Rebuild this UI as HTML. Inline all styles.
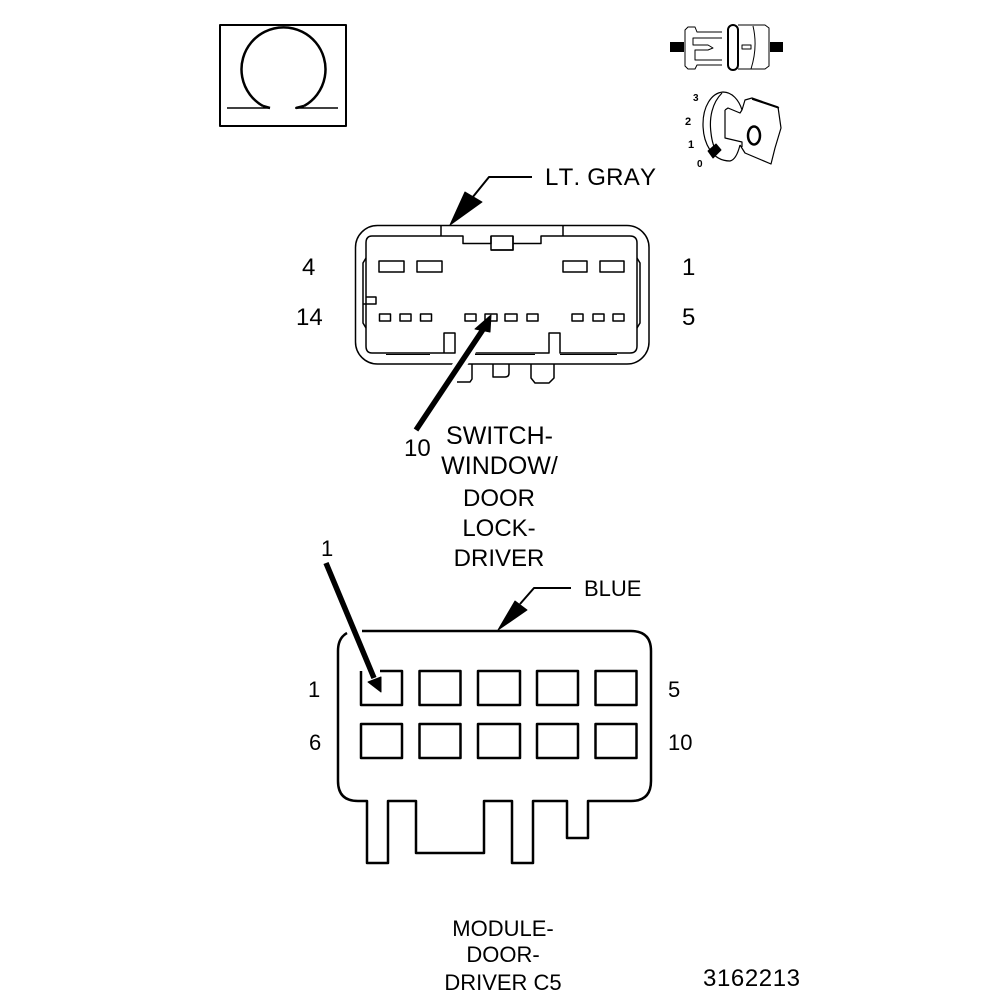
<!DOCTYPE html>
<html><head><meta charset="utf-8"><style>
html,body{margin:0;padding:0;background:#fff}
svg{display:block}
text{font-family:"Liberation Sans",sans-serif;fill:#000;font-kerning:none}
.a{font-size:24px}.b{font-size:22px}.c{font-size:25px}
</style></head><body>
<svg width="1008" height="1000" viewBox="0 0 1008 1000" xmlns="http://www.w3.org/2000/svg" fill="none" stroke="#000" stroke-linejoin="round">
<!-- omega frame -->
<rect x="220" y="25" width="126" height="101" stroke-width="2"/>
<path d="M263 106A42 42 0 1 1 304 106" stroke-width="2.500"/>
<path d="M227 108H270M295 108H338" stroke-width="1.500"/>
<path d="M263 106L270 108M304 106L296 108" stroke-width="2.500"/>
<!-- switch icon -->
<rect x="670" y="42" width="14" height="10" fill="#000" stroke="none"/>
<rect x="770" y="42" width="13" height="10" fill="#000" stroke="none"/>
<path d="M722 32H697L695 27H688L685 30V66L688 69H695L697 65H722M722 38H693V45H708L713 48L708 50H695V60H722" stroke-width="1"/>
<rect x="728" y="25" width="10" height="45" rx="5" stroke-width="2"/>
<path d="M738 25H765L769 28V66L765 69H738M753 26Q758 47 751 69" stroke-width="1"/>
<rect x="742" y="45" width="9" height="4" stroke-width="1"/>
<!-- key icon -->
<path d="M742 110C739 100 732 92 723 92C711 93 703 107 703 124C703 143 712 161 730 161C735 160 738 153 740 145M722 93C712 103 709 118 711 133C712 142 714 148 717 152" stroke-width="1.200"/>
<path d="M742 110L745 100L752 98L778 107L781 128L775 148L771 164L745 153L740 145M725 110V138L742 142V147M725 110L728 108L740 113L742 110" stroke-width="1.200"/>
<path d="M752 99L779 108" stroke-width="1.500"/>
<path d="M708 151L716 144L721 150L713 158Z" fill="#000" stroke="#000" stroke-width="1"/>
<ellipse cx="754" cy="135.500" rx="6" ry="9" stroke-width="2.500"/>
<text x="693" y="101" stroke="none" font-size="10" font-weight="bold">3</text>
<text x="685" y="125" stroke="none" font-size="11" font-weight="bold">2</text>
<text x="688" y="148" stroke="none" font-size="11" font-weight="bold">1</text>
<text x="697" y="167" stroke="none" font-size="10" font-weight="bold">0</text>
<!-- upper connector -->
<g stroke-width="1.500">
<rect x="355.500" y="225.500" width="293.500" height="138.500" rx="22"/>
<path d="M372 236H463V243.500H491V236H513V250H491M513 243.500H541V236H630Q637 236 637 243V346Q637 353 630 353H560V333H549V353H475M444 353V333H455V353H372Q366 353 366 346V243Q366 236 372 236"/>
<path d="M491 236V250H513V236M441 225V236M563 225V236"/>
<path d="M366 258L363 263V323L366 328M637 258L640 263V323L637 328"/>
<path d="M366 297H376V304H363"/>
<rect x="379" y="261" width="25" height="11"/><rect x="417" y="261" width="25" height="11"/>
<rect x="563" y="261" width="24" height="11"/><rect x="600" y="261" width="24" height="11"/>
<rect x="379.500" y="314" width="11" height="7"/><rect x="400" y="314" width="11" height="7"/><rect x="420.500" y="314" width="11" height="7"/>
<rect x="465" y="314" width="11" height="7"/><rect x="485" y="314" width="12" height="7"/><rect x="505" y="314" width="12" height="7"/><rect x="527" y="314" width="11" height="7"/>
<rect x="572" y="314" width="11" height="7"/><rect x="593" y="314" width="11" height="7"/><rect x="613" y="314" width="11" height="7"/>
<path d="M386 354.500H430M475 354.500H535M560 354.500H617" stroke-width="1"/>
<path d="M472 364V379L470 382H457M493 364V377H505Q509 377 509 373V364M531 364V378L535 383H549L554 378V364"/>
</g>
<!-- long upper arrow -->
<path d="M442 391L473 345" stroke="#fff" stroke-width="13"/>
<path d="M416 430L484 328" stroke-width="5.500"/>
<path d="M491 315L475 329L490 332Z" fill="#000" stroke="#000" stroke-width="1"/>
<!-- callouts -->
<path d="M532 177H489L472 198" stroke-width="2"/>
<path d="M450 225L465 192L482 202Z" fill="#000" stroke="#000" stroke-width="1"/>
<path d="M571 588H534L520 604" stroke-width="2"/>
<path d="M498 630L515 601L527 610Z" fill="#000" stroke="#000" stroke-width="1"/>
<!-- lower connector -->
<g stroke-width="2.500">
<path d="M338 651Q338 638 347 633M362 631H631Q651 631 651 651V781Q651 801 631 801H588V838H567V801H533V863H512V801H484V853H416V801H388V863H367V801H358Q338 801 338 781V651"/>
<path d="M380 671H402V705H361V671"/>
<rect x="419.500" y="671" width="41" height="34"/><rect x="478" y="671" width="42" height="34"/><rect x="537" y="671" width="41" height="34"/><rect x="595.500" y="671" width="41" height="34"/>
<rect x="361" y="724" width="41" height="34"/><rect x="419.500" y="724" width="41" height="34"/><rect x="478" y="724" width="42" height="34"/><rect x="537" y="724" width="41" height="34"/><rect x="595.500" y="724" width="41" height="34"/>
</g>
<path d="M326 563L374 678" stroke-width="5.500"/>
<path d="M381 692L368 682L381 677Z" fill="#000" stroke="#000" stroke-width="1"/>
<!-- labels -->
<g stroke="none">
<text class="a" x="545" y="185" textLength="111">LT. GRAY</text>
<text class="a" x="302" y="275">4</text>
<text class="a" x="682" y="275">1</text>
<text class="a" x="296" y="325">14</text>
<text class="a" x="682" y="325">5</text>
<text class="a" x="404" y="456">10</text>
<g text-anchor="middle">
<text class="c" x="499.500" y="444">SWITCH-</text>
<text class="c" x="499.500" y="474">WINDOW/</text>
<text class="a" x="499" y="506">DOOR</text>
<text class="a" x="499" y="536">LOCK-</text>
<text class="a" x="499" y="566">DRIVER</text>
<text class="b" x="503" y="936">MODULE-</text>
<text class="b" x="503" y="962">DOOR-</text>
<text class="b" x="503" y="990">DRIVER C5</text>
</g>
<text class="b" x="584" y="596">BLUE</text>
<text class="b" x="321" y="556">1</text>
<text class="b" x="308" y="697">1</text>
<text class="b" x="309" y="750">6</text>
<text class="b" x="668" y="697">5</text>
<text class="b" x="668" y="750">10</text>
<text class="a" x="703" y="986" textLength="97">3162213</text>
</g>
</svg>
</body></html>
